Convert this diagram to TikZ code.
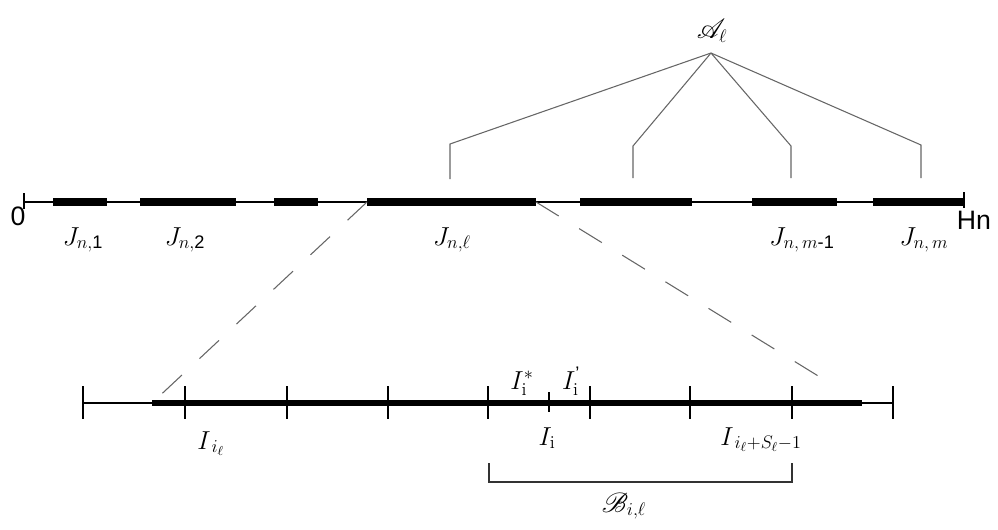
\RequirePackage{fix-cm}
\documentclass[tikz,border=0pt]{standalone}
\usepackage{amsmath}
\usepackage{fontspec}
\setsansfont{Liberation Sans}
\usepackage{mathrsfs}
\begin{document}
\begin{tikzpicture}[x=0.75pt,y=-0.75pt,
  axis/.style={line width=0.9pt,black},
  seg/.style={line width=6pt,black},
  lseg/.style={line width=5pt,black},
  tickmark/.style={line width=1.6pt,black},
  branch/.style={line width=0.8pt,black!60},
  zoomline/.style={line width=0.8pt,black!60,dash pattern=on 20pt off 18pt},
  lbl/.style={font=\fontsize{19.5}{22}\selectfont,inner sep=0pt,anchor=base},
  sflbl/.style={font=\sffamily,inner sep=0pt}]
\useasboundingbox (0,0) rectangle (998,529);
% ---------- top axis ----------
\coordinate (t0) at (24,202);
\coordinate (tH) at (964,202);
\draw[axis] (t0) -- (tH);
\draw[tickmark] (24,193) -- (24,209);
\draw[tickmark] (964,192) -- (964,208);
\foreach \n/\a/\b in {1/53/107,2/140/236,3/274/318,4/367/536,5/580/692,6/752/837,7/873/964}{
  \coordinate (s\n a) at (\a,202);
  \coordinate (s\n b) at (\b,202);
  \draw[seg] (s\n a) -- (s\n b);
}
\node[sflbl,font=\fontsize{20}{22}\sffamily] (zero) at (18,216) {0};
\node[sflbl,font=\fontsize{20}{22}\sffamily] (hn) at (974,220) {Hn};
\node[lbl] (J1) at (83,245) {$J_{n,\mathsf{1}}$};
\node[lbl] (J2) at (185,245) {$J_{n,\mathsf{2}}$};
\node[lbl] (Jl) at (452,245) {$J_{n,\ell}$};
\node[lbl] (Jm1) at (802,245) {$J_{n,\,m\textsf{-1}}$};
\node[lbl] (Jm) at (924,245) {$J_{n,\,m}$};
% ---------- A_l tree ----------
\node[lbl,anchor=center] (A) at (712,31) {$\mathscr{A}_{\ell}$};
\coordinate (apex) at (711,53);
\coordinate (k1) at (450,144); \coordinate (e1) at (450,179);
\coordinate (k2) at (633,146); \coordinate (e2) at (633,178);
\coordinate (k3) at (791,146); \coordinate (e3) at (791,178);
\coordinate (k4) at (921,145); \coordinate (e4) at (921,178);
\draw[branch] (apex) -- (k1) -- (e1);
\draw[branch] (apex) -- (k2) -- (e2);
\draw[branch] (apex) -- (k3) -- (e3);
\draw[branch] (apex) -- (k4) -- (e4);
% ---------- lower axis ----------
\coordinate (l0) at (83,403);
\coordinate (lE) at (893,403);
\coordinate (la) at (152,403);
\coordinate (lb) at (862,403);
\draw[axis] (l0) -- (lE);
\draw[lseg] (la) -- (lb);
\foreach \x in {83,185,287,388,488,590,690,792,893}{
  \draw[tickmark] (\x,386) -- (\x,419);
}
\draw[line width=1pt] (549,392) -- (549,412);
% ---------- zoom lines ----------
\draw[zoomline,shorten >=5pt] (s4a) -- (la);
\draw[zoomline,shorten >=24pt] (s4b) -- (lb);
% ---------- lower labels ----------
\node[lbl] (Is) at (522,389) {$I^{*}_{\mathrm{i}}$};
\node[lbl] (Ip) at (571,389) {$I^{\textsf{\char"27}}_{\mathrm{i}}$};
\node[lbl] (Iil) at (211,449) {$I_{\,i_{\ell}}$};
\node[lbl] (Ii) at (547,445) {$I_{\mathrm{i}}$};
\node[lbl] (Iend) at (761,445) {$I_{\,i_{\ell}+S_{\ell}-1}$};
% ---------- bracket ----------
\coordinate (b1) at (489,463);
\coordinate (b2) at (489,482);
\coordinate (b3) at (792,482);
\coordinate (b4) at (792,463);
\draw[line width=0.9pt,black!80] (b1) -- (b2) -- (b3) -- (b4);
\node[lbl] (B) at (624,512) {$\mathscr{B}_{i,\ell}$};
\end{tikzpicture}
\end{document}
